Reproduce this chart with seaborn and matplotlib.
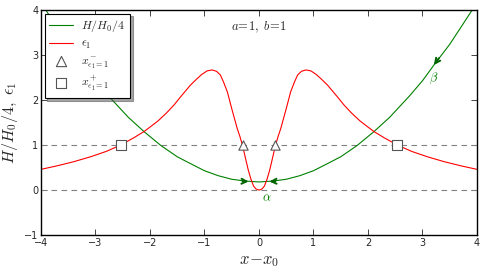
import numpy as np
import pandas as pd
import matplotlib
matplotlib.use('Agg')
import matplotlib.pyplot as plt
import seaborn as sns

sns.set_style('ticks')
plt.rcParams['mathtext.fontset'] = 'cm'
plt.rcParams['font.family'] = ['DejaVu Sans']

# ---- data (curves are symmetric in x) ----
x_half = [0.0, 0.03, 0.06, 0.1, 0.15, 0.2, 0.25, 0.3, 0.35, 0.4, 0.45, 0.5,
          0.58, 0.65, 0.71, 0.78, 0.86, 0.95, 1.05, 1.15, 1.26, 1.35, 1.44,
          1.56, 1.7, 1.85, 2.0, 2.11, 2.3, 2.54, 2.8, 3.09, 3.4, 3.7, 4.0]
eps_half = [0.0, 0.01, 0.03, 0.09, 0.25, 0.46, 0.72, 0.98, 1.19, 1.37, 1.59,
            1.81, 2.18, 2.40, 2.56, 2.64, 2.67, 2.65, 2.57, 2.46, 2.33, 2.20,
            2.07, 1.89, 1.71, 1.54, 1.40, 1.30, 1.16, 1.0, 0.86, 0.74, 0.63,
            0.54, 0.46]

xg_half = [0.0, 0.25, 0.5, 0.75, 1.0, 1.26, 1.5, 1.8, 2.11, 2.4, 2.76, 3.0,
           3.21, 3.5, 3.9, 4.0]
h_half = [0.18, 0.20, 0.24, 0.32, 0.43, 0.59, 0.74, 0.99, 1.30, 1.62, 2.09,
          2.43, 2.78, 3.24, 3.98, 4.18]

tri_x = [-0.30, 0.30]
sq_x = [-2.54, 2.54]
eps_level = 1.0

# arrows along H/H0/4: (tail, head) in data
arrows = [((-0.30, 0.195), (-0.19, 0.19)),
          ((0.30, 0.195), (0.19, 0.19)),
          ((3.30, 2.93), (3.21, 2.78))]
labels = [(0.15, -0.17, r'$\alpha$'), (3.21, 2.48, r'$\beta$')]


def mirror(xs, ys):
    xs, ys = np.asarray(xs), np.asarray(ys)
    return np.r_[-xs[:0:-1], xs], np.r_[ys[:0:-1], ys]


xe, ye = mirror(x_half, eps_half)
xh, yh = mirror(xg_half, h_half)

fig = plt.figure(figsize=(4.85, 2.73), dpi=100)
ax = fig.add_axes([0.0845, 0.139, 0.899, 0.824])

ax.axhline(0, color='gray', ls='--', lw=0.8, dashes=(5, 4))
ax.axhline(1, color='gray', ls='--', lw=0.8, dashes=(5, 4))

sns.lineplot(x=xh, y=yh, ax=ax, color='green', lw=0.8, sort=False,
             label=r'$H/H_0/4$')
sns.lineplot(x=xe, y=ye, ax=ax, color='red', lw=0.8, sort=False,
             label=r'$\epsilon_1$')
sns.scatterplot(x=tri_x, y=[eps_level] * 2, ax=ax, marker='^', s=45,
                facecolor='white', edgecolor='#555555', linewidth=0.8,
                zorder=5, label=r'$x^-_{\epsilon_1=1}$')
sns.scatterplot(x=sq_x, y=[eps_level] * 2, ax=ax, marker='s', s=45,
                facecolor='white', edgecolor='#555555', linewidth=0.8,
                zorder=5, label=r'$x^+_{\epsilon_1=1}$')

for tail, head in arrows:
    ax.annotate('', xy=head, xytext=tail,
                arrowprops=dict(arrowstyle='->', color='#006400', lw=1.4,
                                shrinkA=0, shrinkB=0, mutation_scale=9))
for lx, ly, s in labels:
    ax.text(lx, ly, s, color='green', fontsize=9, ha='center', va='center')

ax.text(0, 3.62, r'$a\!=\!1,\ b\!=\!1$', fontsize=9, ha='center',
        va='center')

ax.set_xlim(-4, 4)
ax.set_ylim(-1, 4)
ax.set_xticks(range(-4, 5))
ax.set_yticks(range(-1, 5))
ax.tick_params(direction='in', top=True, right=True, labelsize=7,
               length=4, width=0.6, pad=2)
for sp in ax.spines.values():
    sp.set_color('black')
    sp.set_linewidth(1.0)
ax.set_xlabel(r'$x\!-\!x_0$', fontsize=12, labelpad=2)
ax.set_ylabel(r'$H/H_0/4,\ \epsilon_1$', fontsize=11.5, labelpad=3)

leg = ax.legend(loc='upper left', shadow=True, fancybox=False, fontsize=8.5,
                framealpha=1, edgecolor='black', borderpad=0.4,
                handlelength=2.0, handletextpad=0.7, labelspacing=0.25,
                borderaxespad=0.3, markerscale=1.1)
leg.get_frame().set_linewidth(0.8)

fig.savefig('out.png', dpi=100)
